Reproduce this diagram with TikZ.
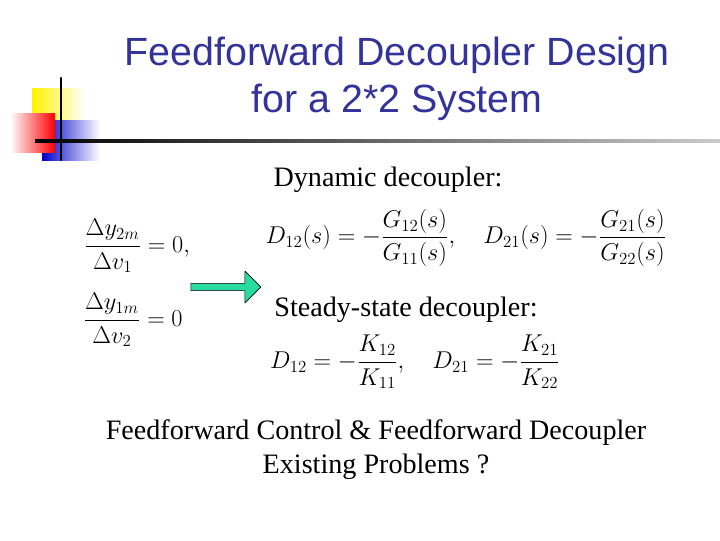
\documentclass[tikz,border=0pt]{standalone}
\usepackage{amsmath}
\usepackage{fontspec}
\setmainfont{Liberation Serif}
\newfontfamily\titlefont{Liberation Sans}
\usetikzlibrary{shapes.arrows}
\definecolor{titleblue}{RGB}{51,51,153}
\definecolor{arrowgreen}{RGB}{40,220,160}
\tikzset{
every picture/.append style={line join=round, line cap=round},
titletext/.style={font=\titlefont\fontsize{28}{31}\selectfont, text=titleblue},
bodytext/.style={font=\fontsize{20}{24}\selectfont},
mathtext/.style={font=\fontsize{17}{20}\selectfont}
}
\begin{document}
\begin{tikzpicture}[x=0.025cm,y=-0.025cm]
        \useasboundingbox (0,0) rectangle (720,540);
        % logo
        \shade [left color=yellow!90!orange, right color=white] (32,88) rectangle (85,132);
        \shade [left color=blue!80!black, right color=white] (42,120) rectangle (100,160);
        \shade [left color=white, right color=red] (10,113) rectangle (55,152);
        \draw [line width=1.5pt] (61,78) -- (61,160);
        \shade [left color=black, right color=gray!40] (35,139.5) rectangle (720,142.5);
        % title
        \node [titletext] (title1) at (397,55) {Feedforward Decoupler Design};
        \node [titletext] (title2) at (397,102) {for a 2*2 System};
        % left equations
        \node [mathtext] (cond1) at (137,246) {$\dfrac{\Delta y_{2m}}{\Delta v_1}=0,$};
        \node [mathtext] (cond2) at (133,320) {$\dfrac{\Delta y_{1m}}{\Delta v_2}=0$};
        \node [single arrow, draw, fill=arrowgreen, minimum height=1.75cm, minimum width=0.8cm,
               single arrow head extend=0.14cm, inner sep=1pt] (arrow) at (224,287) {};
        % right side
        \node [bodytext] (dynamic) at (388,180) {Dynamic decoupler:};
        \node [mathtext] (dyneq) at (466,238) {$D_{12}(s)=-\dfrac{G_{12}(s)}{G_{11}(s)},\quad D_{21}(s)=-\dfrac{G_{21}(s)}{G_{22}(s)}$};
        \node [bodytext] (steady) at (406,310) {Steady-state decoupler:};
        \node [mathtext] (steq) at (415,362) {$D_{12}=-\dfrac{K_{12}}{K_{11}},\quad D_{21}=-\dfrac{K_{21}}{K_{22}}$};
        % bottom
        \node [bodytext] (bottom1) at (376,433) {Feedforward Control \& Feedforward Decoupler};
        \node [bodytext] (bottom2) at (376,467) {Existing Problems ?};
    \end{tikzpicture}
\end{document}
